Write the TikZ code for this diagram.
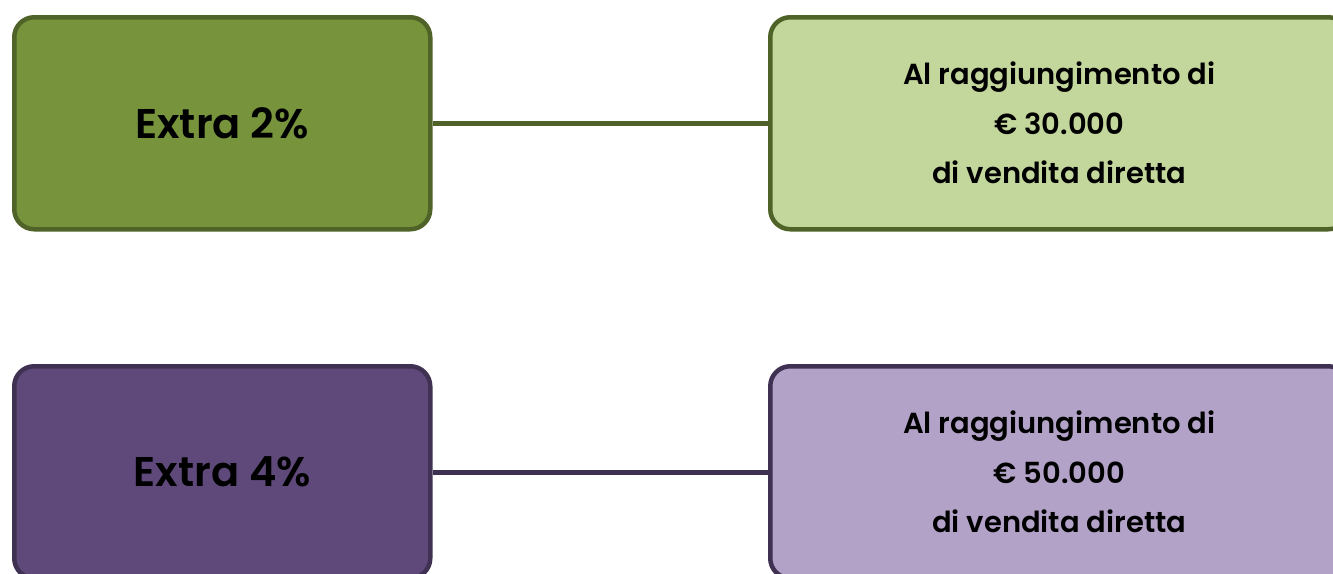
\documentclass[tikz,border=0pt]{standalone}
\usepackage{fontspec}
\setmainfont{Poppins}[UprightFont={* SemiBold},BoldFont={* Bold}]
\definecolor{gfill}{HTML}{77933C}
\definecolor{gdark}{HTML}{4F6228}
\definecolor{glight}{HTML}{C3D69B}
\definecolor{pfill}{HTML}{5F497A}
\definecolor{pdark}{HTML}{3F3151}
\definecolor{plight}{HTML}{B2A2C7}
\begin{document}
\begin{tikzpicture}[x=1pt,y=-1pt,
  box/.style={rounded corners=20pt,line width=4.5pt,inner sep=0pt,anchor=north west,align=center},
  leftbox/.style={box,minimum width=416pt,minimum height=212pt,font=\fontsize{41.5}{44}\selectfont},
  rightbox/.style={box,minimum width=578pt,minimum height=212pt,font=\fontsize{29}{49.5}\selectfont},
  conn/.style={line width=4.5pt}]
\useasboundingbox (0,0) rectangle (1333,573);
\node[leftbox,draw=gdark,fill=gfill] (a) at (12,15) {Extra 2\%};
\node[rightbox,draw=gdark,fill=glight] (b) at (768,15) {Al raggiungimento di\\€ 30.000\\di vendita diretta};
\node[leftbox,draw=pdark,fill=pfill] (c) at (12,364) {Extra 4\%};
\node[rightbox,draw=pdark,fill=plight] (d) at (768,364) {Al raggiungimento di\\€ 50.000\\di vendita diretta};
\draw[conn,gdark] (a.east) -- (b.west);
\draw[conn,pdark] (c.east) -- (d.west);
\end{tikzpicture}
\end{document}
